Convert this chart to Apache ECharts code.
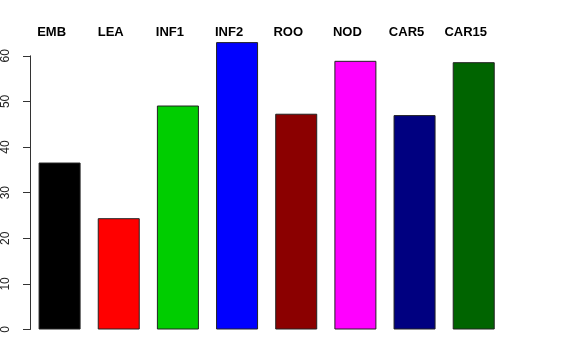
<!DOCTYPE html>
<html>
<head>
<meta charset="utf-8">
<script src="https://cdn.jsdelivr.net/npm/echarts@6/dist/echarts.min.js"></script>
<style>html,body{margin:0;padding:0;background:#fff;}#c{width:576px;height:360px;}</style>
</head>
<body>
<div id="c"></div>
<script>
const categories = ['EMB', 'LEA', 'INF1', 'INF2', 'ROO', 'NOD', 'CAR5', 'CAR15'];
const values = [36.6, 24.4, 49.1, 63.0, 47.3, 58.9, 47.0, 58.6];
const barColors = ['#000000', '#FF0000', '#00CD00', '#0000FF', '#8B0000', '#FF00FF', '#000080', '#006400'];
const yTicks = [0, 10, 20, 30, 40, 50, 60];

const chart = echarts.init(document.getElementById('c'), null, {renderer: 'canvas'});
const font = 'Liberation Sans, Arial, Helvetica, sans-serif';
chart.setOption({
  animation: false,
  backgroundColor: '#ffffff',
  grid: {left: 29.5, right: 72.7, top: 55.8, bottom: 30.5, containLabel: false},
  xAxis: [{
    type: 'category', data: categories, position: 'bottom',
    axisLine: {show: false}, axisTick: {show: false}, axisLabel: {show: false}
  }, {
    type: 'category', data: categories, position: 'top',
    axisLine: {show: false}, axisTick: {show: false},
    axisLabel: {show: true, fontFamily: font, fontWeight: 'bold', fontSize: 13, color: '#000',
      margin: 17, padding: [0, 16, 0, 0], interval: 0}
  }],
  yAxis: {
    type: 'value', min: yTicks[0], max: yTicks[yTicks.length - 1], interval: 10,
    splitLine: {show: false},
    axisLine: {show: true, lineStyle: {color: '#333', width: 1}},
    axisTick: {show: true, length: 7, lineStyle: {color: '#333', width: 1}},
    axisLabel: {rotate: 90, fontFamily: font, fontSize: 12, color: '#222', margin: 18}
  },
  series: [{
    type: 'bar', xAxisIndex: 0, clip: false, barCategoryGap: '29%',
    data: values.map((v, i) => ({value: v, itemStyle: {color: barColors[i]}})),
    itemStyle: {borderColor: '#222', borderWidth: 1}
  }]
});
</script>
</body>
</html>
